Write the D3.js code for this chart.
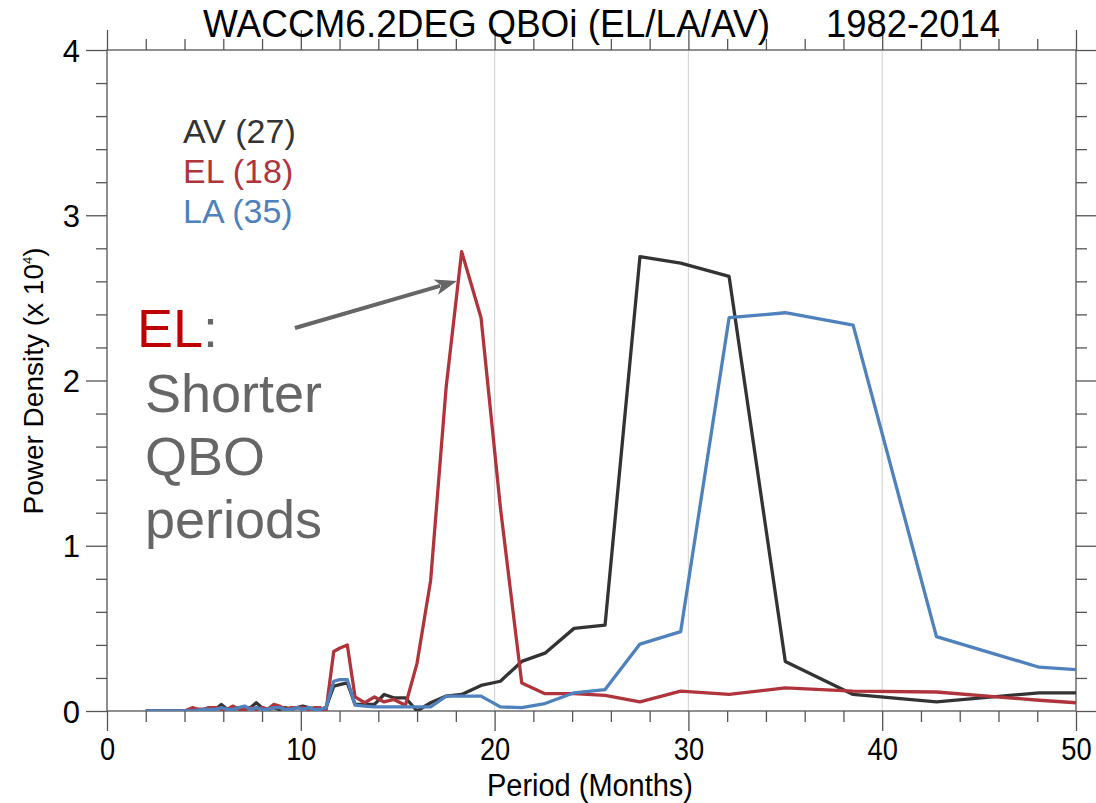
<!DOCTYPE html>
<html lang="en">
<head>
  <meta charset="UTF-8">
  <title>WACCM6.2DEG QBOi power spectrum</title>
  <script src="https://d3js.org/d3.v7.min.js"></script>
  <style>
    html, body {
      margin: 0;
      padding: 0;
      background: white;
      overflow: hidden;
    }
    svg {
      display: block;
      font-family: "Liberation Sans", Arial, Helvetica, sans-serif;
    }
  </style>
</head>
<body>
  <svg width="1096" height="803"></svg>

  <script>
    // periods (months) of the spectral estimates
    const periods = [55.0, 48.1, 42.8, 38.5, 35.0, 32.1, 29.6, 27.5, 25.7, 24.1,
      22.6, 21.4, 20.3, 19.3, 18.3, 17.5, 16.7, 16.0, 15.4, 14.8,
      14.3, 13.8, 13.3, 12.8, 12.4, 12.0, 11.7, 11.3, 11.0, 10.7,
      10.4, 10.1, 9.8, 9.5, 9.2, 8.9, 8.6, 8.3, 8.0, 7.7,
      7.4, 7.1, 6.8, 6.5, 6.2, 5.9, 5.6, 5.3, 5.0, 4.7,
      4.4, 4.0, 3.5, 3.0, 2.5, 2.0];

    // power density (x 10^4)
    const av = [0.11, 0.11, 0.055, 0.10, 0.30, 2.63, 2.71, 2.75, 0.52, 0.50,
      0.35, 0.30, 0.18, 0.155, 0.10, 0.09, 0.05, 0.0, 0.08, 0.08,
      0.10, 0.04, 0.04, 0.04, 0.17, 0.16, 0.15, 0.02, 0.01, 0.01,
      0.02, 0.03, 0.02, 0.01, 0.02, 0.01, 0.02, 0.01, 0.02, 0.05,
      0.02, 0.01, 0.02, 0.01, 0.01, 0.04, 0.01, 0.02, 0.01, 0.01,
      0.005, 0.0, 0.0, 0.0, 0.0, 0.0];
    const el = [0.01, 0.065, 0.115, 0.12, 0.14, 0.10, 0.12, 0.055, 0.095, 0.105,
      0.105, 0.17, 1.23, 2.38, 2.78, 1.96, 0.79, 0.29, 0.035, 0.07,
      0.055, 0.085, 0.05, 0.085, 0.40, 0.38, 0.36, 0.0, 0.02, 0.02,
      0.01, 0.02, 0.02, 0.02, 0.01, 0.03, 0.04, 0.01, 0.02, 0.01,
      0.02, 0.01, 0.01, 0.03, 0.01, 0.01, 0.02, 0.02, 0.01, 0.01,
      0.02, 0.0, 0.0, 0.0, 0.0, 0.0];
    const la = [0.21, 0.265, 0.45, 2.335, 2.41, 2.38, 0.48, 0.405, 0.13, 0.11,
      0.045, 0.02, 0.025, 0.09, 0.09, 0.09, 0.025, 0.025, 0.025, 0.025,
      0.025, 0.025, 0.03, 0.035, 0.19, 0.19, 0.18, 0.02, 0.01, 0.01,
      0.02, 0.01, 0.02, 0.01, 0.01, 0.02, 0.02, 0.01, 0.01, 0.02,
      0.01, 0.03, 0.02, 0.01, 0.01, 0.02, 0.01, 0.01, 0.01, 0.005,
      0.0, 0.0, 0.0, 0.0, 0.0, 0.0];

    const seriesNames = ["AV", "EL", "LA"];
    const seriesPeaks = [27, 18, 35];
    const seriesValues = [av, el, la];
    const seriesColors = ["#333333", "#b0343c", "#4f81bd"];

    const xMajor = [0, 10, 20, 30, 40, 50];
    const yMajor = [0, 1, 2, 3, 4];
    const gridAt = [20, 30, 40];

    const svg = d3.select("svg");
    const mLeft = 107, mRight = 1076, mTop = 50, mBottom = 711;

    const x = d3.scaleLinear().domain([0, 50]).range([mLeft, mRight]);
    const y = d3.scaleLinear().domain([0, 4]).range([mBottom, mTop]);

    svg.append("defs").append("clipPath").attr("id", "plotclip")
      .append("rect")
      .attr("x", mLeft).attr("y", mTop - 10)
      .attr("width", mRight - mLeft).attr("height", mBottom - mTop + 10);

    // light vertical grid lines
    svg.append("g").selectAll("line")
      .data(gridAt)
      .enter().append("line")
      .attr("x1", d => x(d)).attr("x2", d => x(d))
      .attr("y1", mTop).attr("y2", mBottom)
      .attr("stroke", "#d8d8d8")
      .attr("stroke-width", 1.2);

    // axes, IDL style: ticks outward, minor every 2 / 0.2
    const axisColor = "#555";
    const xMinor = d3.range(0, 50.01, 2).filter(v => v % 10 !== 0);
    const yMinor = d3.range(0, 4.001, 0.2).map(v => +v.toFixed(1)).filter(v => v % 1 !== 0);

    const bottomAxis = d3.axisBottom(x).tickValues(xMajor).tickSize(20).tickFormat(d3.format("d"));
    const topAxis = d3.axisTop(x).tickValues(xMajor).tickSize(20).tickFormat("");
    const leftAxis = d3.axisLeft(y).tickValues(yMajor).tickSize(21).tickFormat(d3.format("d"));
    const rightAxis = d3.axisRight(y).tickValues(yMajor).tickSize(21).tickFormat("");

    function styleAxis(g) {
      g.select(".domain").remove();
      g.selectAll("line").attr("stroke", axisColor).attr("stroke-width", 1.3);
    }

    svg.append("g").attr("transform", `translate(0,${mBottom})`)
      .call(d3.axisBottom(x).tickValues(xMinor).tickSize(11).tickFormat(""))
      .call(styleAxis);
    svg.append("g").attr("transform", `translate(0,${mTop})`)
      .call(d3.axisTop(x).tickValues(xMinor).tickSize(11).tickFormat(""))
      .call(styleAxis);
    svg.append("g").attr("transform", `translate(${mLeft},0)`)
      .call(d3.axisLeft(y).tickValues(yMinor).tickSize(11).tickFormat(""))
      .call(styleAxis);
    svg.append("g").attr("transform", `translate(${mRight},0)`)
      .call(d3.axisRight(y).tickValues(yMinor).tickSize(11).tickFormat(""))
      .call(styleAxis);

    const gb = svg.append("g").attr("transform", `translate(0,${mBottom})`)
      .call(bottomAxis).call(styleAxis);
    gb.selectAll("text")
      .attr("font-family", null)
      .attr("font-size", 31).attr("fill", "#000")
      .attr("y", 49).attr("dy", null)
      .attr("transform", "scale(0.88,1)");
    svg.append("g").attr("transform", `translate(0,${mTop})`).call(topAxis).call(styleAxis);
    const gl = svg.append("g").attr("transform", `translate(${mLeft},0)`)
      .call(leftAxis).call(styleAxis);
    gl.selectAll("text")
      .attr("font-family", null)
      .attr("font-size", 31).attr("fill", "#000")
      .attr("x", -27).attr("dy", "0.36em");
    svg.append("g").attr("transform", `translate(${mRight},0)`).call(rightAxis).call(styleAxis);
    svg.selectAll(".tick text").attr("font-family", null);
    svg.selectAll("g").attr("font-family", null);

    // box
    svg.append("rect")
      .attr("x", mLeft).attr("y", mTop)
      .attr("width", mRight - mLeft).attr("height", mBottom - mTop)
      .attr("fill", "none").attr("stroke", axisColor).attr("stroke-width", 1.3);

    // series
    const line = d3.line()
      .x(d => x(d[0]))
      .y(d => y(d[1]));

    const lines = svg.append("g").attr("clip-path", "url(#plotclip)");
    seriesValues.forEach((vals, i) => {
      lines.append("path")
        .datum(periods.map((p, j) => [p, vals[j]]))
        .attr("d", line)
        .attr("fill", "none")
        .attr("stroke", seriesColors[i])
        .attr("stroke-width", 3.3)
        .attr("stroke-linejoin", "round");
    });

    // title (condensed look via textLength)
    svg.append("text")
      .attr("x", 203).attr("y", 37)
      .attr("font-size", 38)
      .attr("textLength", 567).attr("lengthAdjust", "spacingAndGlyphs")
      .attr("fill", "#000")
      .text("WACCM6.2DEG QBOi (EL/LA/AV)");
    svg.append("text")
      .attr("x", 826).attr("y", 37)
      .attr("font-size", 38)
      .attr("textLength", 174).attr("lengthAdjust", "spacingAndGlyphs")
      .attr("fill", "#000")
      .text("1982-2014");

    // axis labels
    svg.append("text")
      .attr("x", 487).attr("y", 796)
      .attr("font-size", 31)
      .attr("textLength", 206).attr("lengthAdjust", "spacingAndGlyphs")
      .attr("fill", "#000")
      .text("Period (Months)");

    const yl = svg.append("text")
      .attr("transform", "translate(43,381) rotate(-90)")
      .attr("text-anchor", "middle")
      .attr("font-size", 28)
      .attr("fill", "#000");
    yl.append("tspan").text("Power Density (x 10");
    yl.append("tspan").attr("dy", -11).attr("font-size", 13).text("4");
    yl.append("tspan").attr("dy", 11).text(")");

    // legend
    const legend = svg.append("g");
    seriesNames.forEach((name, i) => {
      legend.append("text")
        .attr("x", 183).attr("y", 143 + i * 40)
        .attr("font-size", 34)
        .attr("fill", seriesColors[i])
        .text(`${name} (${seriesPeaks[i]})`);
    });

    // annotation
    const note = svg.append("g").attr("font-size", 54).attr("fill", "#666");
    const head = note.append("text").attr("x", 137).attr("y", 347);
    head.append("tspan").attr("fill", "#c00000").text("EL");
    head.append("tspan").text(":");
    ["Shorter", "QBO", "periods"].forEach((t, i) => {
      note.append("text").attr("x", 145).attr("y", 412 + i * 63).text(t);
    });

    const ax0 = 295, ay0 = 328, ax1 = 457, ay1 = 281;
    const ang = Math.atan2(ay1 - ay0, ax1 - ax0);
    const hl = 22, hw = 8;
    svg.append("line")
      .attr("x1", ax0).attr("y1", ay0)
      .attr("x2", ax1 - hl * 0.8 * Math.cos(ang)).attr("y2", ay1 - hl * 0.8 * Math.sin(ang))
      .attr("stroke", "#666").attr("stroke-width", 4);
    const bx = ax1 - hl * Math.cos(ang), by = ay1 - hl * Math.sin(ang);
    svg.append("path")
      .attr("d", `M${ax1},${ay1} L${bx + hw * Math.sin(ang)},${by - hw * Math.cos(ang)} L${ax1 - hl * 0.75 * Math.cos(ang)},${ay1 - hl * 0.75 * Math.sin(ang)} L${bx - hw * Math.sin(ang)},${by + hw * Math.cos(ang)} Z`)
      .attr("fill", "#666");
  </script>
</body>
</html>
